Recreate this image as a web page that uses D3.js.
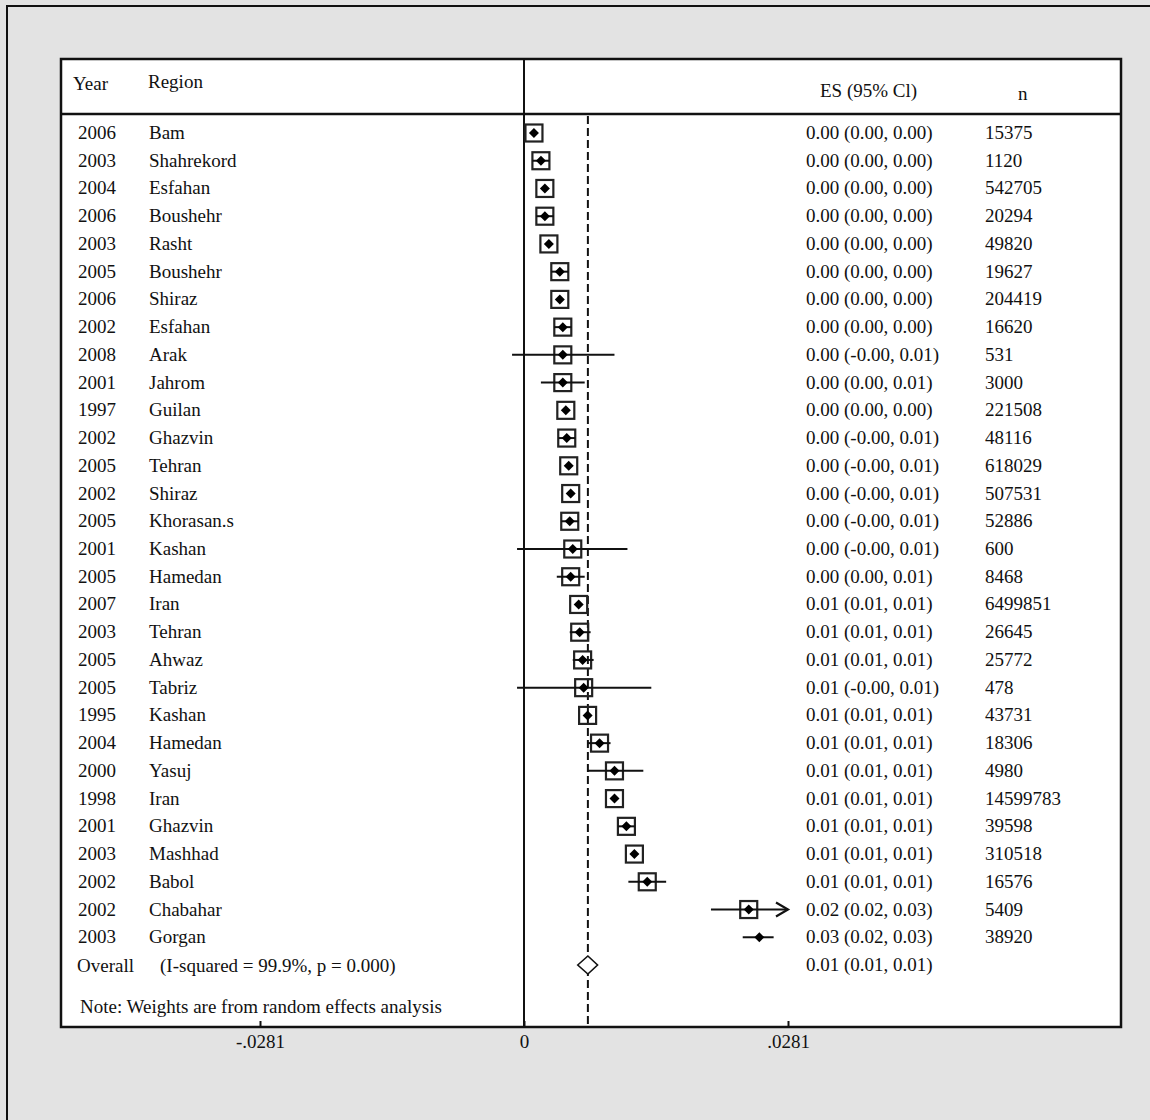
<!DOCTYPE html>
<html>
<head>
<meta charset="utf-8">
<script src="https://cdn.jsdelivr.net/npm/d3@7"></script>
<style>
  body { margin: 0; background: #e3e3e3; }
  svg { display: block; }
  text { font-family: "Liberation Serif", "Times New Roman", serif; font-size: 19px; fill: #111; }
</style>
</head>
<body>
<svg id="forest_svg" width="1150" height="1120"></svg>
<script>
// studies, top to bottom
const years = ["2006","2003","2004","2006","2003","2005","2006","2002","2008","2001",
               "1997","2002","2005","2002","2005","2001","2005","2007","2003","2005",
               "2005","1995","2004","2000","1998","2001","2003","2002","2002","2003"];
const regions = ["Bam","Shahrekord","Esfahan","Boushehr","Rasht","Boushehr","Shiraz","Esfahan","Arak","Jahrom",
                 "Guilan","Ghazvin","Tehran","Shiraz","Khorasan.s","Kashan","Hamedan","Iran","Tehran","Ahwaz",
                 "Tabriz","Kashan","Hamedan","Yasuj","Iran","Ghazvin","Mashhad","Babol","Chabahar","Gorgan"];
const es = [0.00106,0.00180,0.00222,0.00222,0.00265,0.00381,0.00381,0.00413,0.00413,0.00413,
            0.00445,0.00455,0.00476,0.00497,0.00487,0.00519,0.00497,0.00582,0.00593,0.00624,
            0.00635,0.00677,0.00804,0.00963,0.00963,0.01090,0.01175,0.01312,0.02392,0.02505];
const lower = [0.00080,0.00090,0.00195,0.00130,0.00240,0.00290,0.00355,0.00320,-0.00127,0.00180,
               0.00420,0.00365,0.00450,0.00470,0.00395,-0.00074,0.00349,0.00555,0.00487,0.00519,
               -0.00074,0.00650,0.00677,0.00677,0.00935,0.01000,0.01150,0.01111,0.01990,0.02328];
const upper = [0.00130,0.00270,0.00250,0.00315,0.00290,0.00470,0.00405,0.00505,0.00963,0.00646,
               0.00470,0.00545,0.00500,0.00525,0.00580,0.01101,0.00646,0.00610,0.00709,0.00741,
               0.01355,0.00705,0.00921,0.01270,0.00990,0.01180,0.01200,0.01513,0.03100,0.02657];
const weights = [3.4,3.4,3.4,3.4,3.4,3.4,3.4,3.4,3.4,3.4,
                 3.4,3.4,3.4,3.4,3.4,3.4,3.4,3.4,3.4,3.4,
                 3.4,3.4,3.4,3.4,3.4,3.4,3.4,3.4,3.4,0];
const esLabels = ["0.00 (0.00, 0.00)","0.00 (0.00, 0.00)","0.00 (0.00, 0.00)","0.00 (0.00, 0.00)","0.00 (0.00, 0.00)",
                  "0.00 (0.00, 0.00)","0.00 (0.00, 0.00)","0.00 (0.00, 0.00)","0.00 (-0.00, 0.01)","0.00 (0.00, 0.01)",
                  "0.00 (0.00, 0.00)","0.00 (-0.00, 0.01)","0.00 (-0.00, 0.01)","0.00 (-0.00, 0.01)","0.00 (-0.00, 0.01)",
                  "0.00 (-0.00, 0.01)","0.00 (0.00, 0.01)","0.01 (0.01, 0.01)","0.01 (0.01, 0.01)","0.01 (0.01, 0.01)",
                  "0.01 (-0.00, 0.01)","0.01 (0.01, 0.01)","0.01 (0.01, 0.01)","0.01 (0.01, 0.01)","0.01 (0.01, 0.01)",
                  "0.01 (0.01, 0.01)","0.01 (0.01, 0.01)","0.01 (0.01, 0.01)","0.02 (0.02, 0.03)","0.03 (0.02, 0.03)"];
const nValues = ["15375","1120","542705","20294","49820","19627","204419","16620","531","3000",
                 "221508","48116","618029","507531","52886","600","8468","6499851","26645","25772",
                 "478","43731","18306","4980","14599783","39598","310518","16576","5409","38920"];

// pooled estimate
const overallEs = 0.0068;
const overallLo = 0.00572;
const overallHi = 0.00783;
const overallLabel = "0.01 (0.01, 0.01)";
const heterogeneity = "(I-squared = 99.9%, p = 0.000)";
const noteText = "Note: Weights are from random effects analysis";

// axis
const xTicks = [-0.0281, 0, 0.0281];
const xTickLabels = ["-.0281", "0", ".0281"];

const panel = { left: 61, top: 59, right: 1121, bottom: 1027, header: 114 };

let svg = d3.select("#forest_svg");

// outer frame
svg.append("rect")
    .attr("x", 7).attr("y", 6)
    .attr("width", 1170).attr("height", 1140)
    .attr("fill", "#e3e3e3")
    .attr("stroke", "#111")
    .attr("stroke-width", 2);

// white plot panel
svg.append("rect")
    .attr("x", panel.left).attr("y", panel.top)
    .attr("width", panel.right - panel.left)
    .attr("height", panel.bottom - panel.top)
    .attr("fill", "#fff")
    .attr("stroke", "#111")
    .attr("stroke-width", 2.5);

svg.append("line")
    .attr("x1", panel.left - 1).attr("x2", panel.right)
    .attr("y1", panel.header).attr("y2", panel.header)
    .attr("stroke", "#111").attr("stroke-width", 2.5);

// scales
const xScale = d3.scaleLinear()
    .domain([xTicks[0], xTicks[2]])
    .range([260, 788]);
const yScale = d3.scalePoint()
    .domain(d3.range(years.length + 1))
    .range([133, 965]);
const boxSize = d3.scaleSqrt().domain([0, 3.4]).range([0, 17]);

const studies = years.map((y, i) => ({
    year: y, region: regions[i], es: es[i], lo: lower[i], hi: upper[i],
    w: weights[i], label: esLabels[i], n: nValues[i], row: i
}));

// null line and pooled (dashed) line
svg.append("line")
    .attr("x1", xScale(0)).attr("x2", xScale(0))
    .attr("y1", panel.top).attr("y2", panel.bottom)
    .attr("stroke", "#111").attr("stroke-width", 2);

svg.append("line")
    .attr("x1", xScale(overallEs)).attr("x2", xScale(overallEs))
    .attr("y1", panel.header + 2).attr("y2", panel.bottom)
    .attr("stroke", "#111").attr("stroke-width", 2)
    .attr("stroke-dasharray", "8,4");

let g_marks = svg.append("g");

// weight boxes
g_marks.selectAll(".box")
    .data(studies.filter(d => d.w > 0))
    .join("rect")
    .attr("class", "box")
    .attr("x", d => xScale(d.es) - boxSize(d.w) / 2)
    .attr("y", d => yScale(d.row) - boxSize(d.w) / 2)
    .attr("width", d => boxSize(d.w))
    .attr("height", d => boxSize(d.w))
    .attr("fill", "none")
    .attr("stroke", "#222")
    .attr("stroke-width", 2.2);

// confidence intervals (clipped at axis max)
const xMax = xScale.domain()[1];
g_marks.selectAll(".ci")
    .data(studies)
    .join("line")
    .attr("class", "ci")
    .attr("x1", d => xScale(d.lo))
    .attr("x2", d => xScale(Math.min(d.hi, xMax)))
    .attr("y1", d => yScale(d.row))
    .attr("y2", d => yScale(d.row))
    .attr("stroke", "#111")
    .attr("stroke-width", 2);

// arrow heads where the CI runs off the axis
g_marks.selectAll(".arrow")
    .data(studies.filter(d => d.hi > xMax))
    .join("path")
    .attr("class", "arrow")
    .attr("d", d => {
        const tx = xScale(xMax), ty = yScale(d.row);
        return `M${tx - 12},${ty - 7}L${tx},${ty}L${tx - 12},${ty + 7}`;
    })
    .attr("fill", "none")
    .attr("stroke", "#111")
    .attr("stroke-width", 2.2);

// point estimates
g_marks.selectAll(".pt")
    .data(studies)
    .join("path")
    .attr("class", "pt")
    .attr("d", d3.symbol(d3.symbolSquare, 50))
    .attr("transform", d => `translate(${xScale(d.es)},${yScale(d.row)}) rotate(45)`)
    .attr("fill", "#000");

// pooled diamond
const yOverall = yScale(years.length);
svg.append("path")
    .attr("d", `M${xScale(overallLo)},${yOverall}L${xScale(overallEs)},${yOverall - 9}L${xScale(overallHi)},${yOverall}L${xScale(overallEs)},${yOverall + 9}Z`)
    .attr("fill", "#fff")
    .attr("stroke", "#111")
    .attr("stroke-width", 1.6);

// header texts
svg.append("text").attr("x", 73).attr("y", 90).text("Year");
svg.append("text").attr("x", 148).attr("y", 88).text("Region");
svg.append("text").attr("x", 820).attr("y", 97).text("ES (95% Cl)");
svg.append("text").attr("x", 1018).attr("y", 100).text("n");

// table columns
let g_table = svg.append("g");
const cols = [
    { key: "year", x: 78 },
    { key: "region", x: 149 },
    { key: "label", x: 806 },
    { key: "n", x: 985 }
];
cols.forEach(c => {
    g_table.selectAll(".col_" + c.key)
        .data(studies)
        .join("text")
        .attr("class", "col_" + c.key)
        .attr("x", c.x)
        .attr("y", d => yScale(d.row) + 6)
        .text(d => d[c.key]);
});

svg.append("text").attr("x", 77).attr("y", yOverall + 7).text("Overall");
svg.append("text").attr("x", 160).attr("y", yOverall + 7).text(heterogeneity);
svg.append("text").attr("x", 806).attr("y", yOverall + 6).text(overallLabel);

svg.append("text").attr("x", 80).attr("y", 1013).text(noteText);

// x axis: ticks point up into the panel
let x_axis = d3.axisBottom(xScale)
    .tickValues(xTicks)
    .tickFormat((d, i) => xTickLabels[i])
    .tickSizeInner(-6)
    .tickSizeOuter(0)
    .tickPadding(8);
let g_x_axis = svg.append("g")
    .attr("transform", "translate(0," + panel.bottom + ")")
    .call(x_axis);
g_x_axis.select(".domain").remove();
g_x_axis.selectAll(".tick line").attr("stroke", "#111").attr("stroke-width", 2);
g_x_axis.selectAll(".tick text")
    .attr("font-family", "Liberation Serif")
    .attr("font-size", 19)
    .attr("fill", "#111");
</script>
</body>
</html>
